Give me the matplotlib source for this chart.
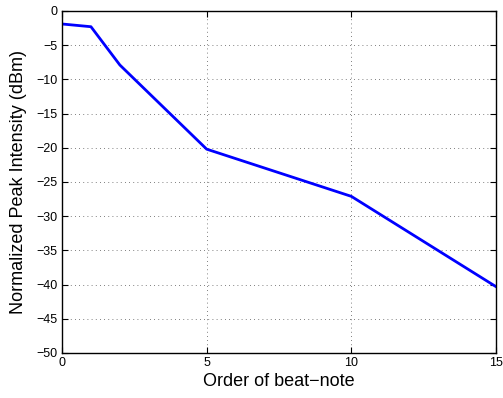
import matplotlib
matplotlib.use('Agg')
import matplotlib.pyplot as plt

# порядок биений и нормированная пиковая интенсивность
order = [0, 1, 2, 5, 10, 15]
intensity = [-1.9, -2.3, -7.9, -20.2, -27.1, -40.3]

x_ticks = [0, 5, 10, 15]
y_ticks = list(range(-50, 1, 5))

plt.rcParams['font.family'] = ['Liberation Sans', 'DejaVu Sans']

fig = plt.figure(figsize=(5.03, 3.98), dpi=100)
ax = fig.add_axes([0.1233, 0.1131, 0.8627, 0.8593])

ax.plot(order, intensity, color='#0000ff', linewidth=2)

ax.set_xlim(0, 15)
ax.set_ylim(-50, 0)
ax.set_xticks(x_ticks)
ax.set_yticks(y_ticks)
ax.set_yticklabels([str(v).replace('-', '\u2212') for v in y_ticks])

ax.grid(True, linestyle=(0, (1, 4)), color='#555555', linewidth=0.6)
ax.tick_params(direction='in', top=True, right=True, labelsize=9, length=4, width=0.8, pad=3)
for s in ax.spines.values():
    s.set_linewidth(1.0)

ax.set_xlabel('Order of beat\u2212note', fontsize=13, labelpad=3)
ax.set_ylabel('Normalized Peak Intensity (dBm)', fontsize=13, labelpad=7)

fig.savefig('out.png', dpi=100)
